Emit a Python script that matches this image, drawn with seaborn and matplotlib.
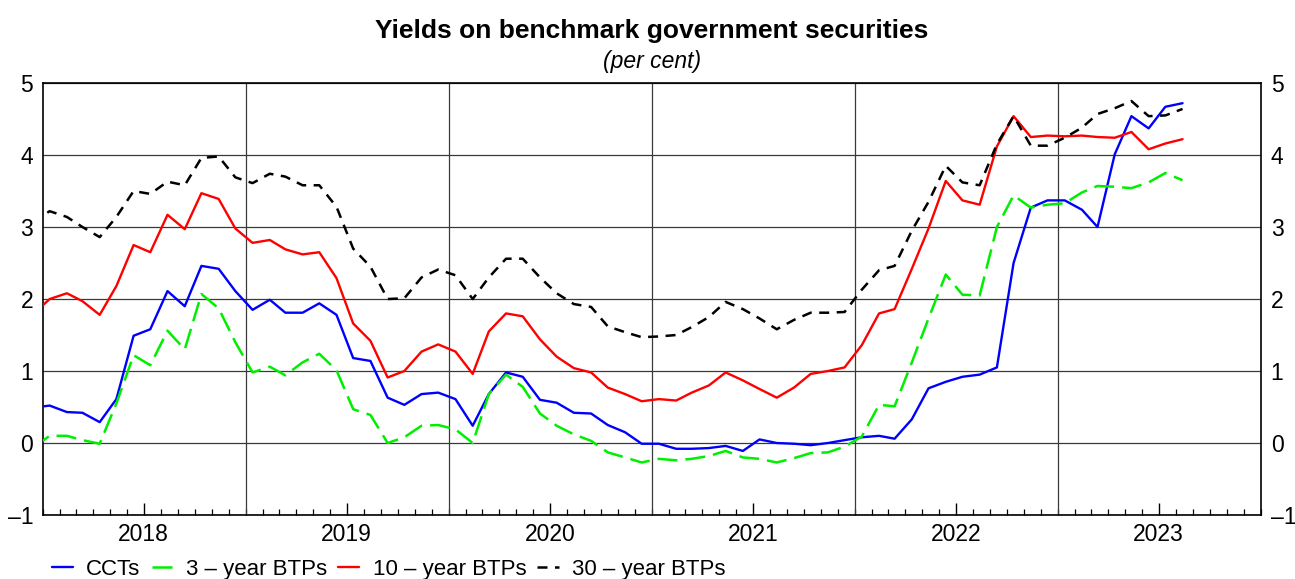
import numpy as np
import pandas as pd
import matplotlib
matplotlib.use("Agg")
import matplotlib.pyplot as plt
import matplotlib.dates as mdates
from matplotlib.lines import Line2D
from matplotlib.ticker import FuncFormatter
import seaborn as sns

# monthly observations, Dec 2017 - Aug 2023 (Dec 2017 only feeds the left edge)
months = pd.date_range("2017-12-01", "2023-08-01", freq="MS") + pd.Timedelta(days=12)

cct = [0.49,
       0.52, 0.43, 0.42, 0.29, 0.61, 1.49, 1.58, 2.11, 1.90, 2.46, 2.42, 2.11,
       1.85, 1.99, 1.81, 1.81, 1.94, 1.78, 1.18, 1.14, 0.63, 0.53, 0.68, 0.70,
       0.61, 0.24, 0.68, 0.98, 0.92, 0.60, 0.56, 0.42, 0.41, 0.25, 0.15, -0.01,
       -0.01, -0.08, -0.08, -0.07, -0.04, -0.11, 0.05, 0.00, -0.01, -0.03, 0.00, 0.04,
       0.08, 0.10, 0.06, 0.33, 0.76, 0.85, 0.92, 0.95, 1.05, 2.50, 3.27, 3.37,
       3.37, 3.24, 3.00, 4.01, 4.54, 4.37, 4.67, 4.72]

btp3 = [-0.07,
        0.10, 0.10, 0.04, -0.01, 0.55, 1.22, 1.08, 1.56, 1.30, 2.07, 1.87, 1.40,
        0.98, 1.06, 0.94, 1.12, 1.24, 1.01, 0.47, 0.39, 0.00, 0.08, 0.24, 0.25,
        0.19, 0.00, 0.68, 0.95, 0.78, 0.41, 0.24, 0.12, 0.03, -0.13, -0.20, -0.27,
        -0.22, -0.24, -0.22, -0.18, -0.11, -0.20, -0.22, -0.27, -0.21, -0.14, -0.13, -0.05,
        0.09, 0.53, 0.51, 1.12, 1.73, 2.34, 2.06, 2.05, 3.00, 3.44, 3.27, 3.31,
        3.33, 3.48, 3.57, 3.56, 3.54, 3.62, 3.75, 3.65]

btp10 = [1.78,
         2.00, 2.08, 1.97, 1.78, 2.18, 2.75, 2.65, 3.17, 2.97, 3.47, 3.39, 2.98,
         2.78, 2.82, 2.69, 2.62, 2.65, 2.29, 1.66, 1.42, 0.91, 1.00, 1.27, 1.37,
         1.27, 0.96, 1.55, 1.80, 1.76, 1.44, 1.20, 1.04, 0.98, 0.77, 0.68, 0.58,
         0.61, 0.59, 0.70, 0.80, 0.98, 0.87, 0.75, 0.63, 0.77, 0.96, 1.00, 1.05,
         1.36, 1.80, 1.86, 2.42, 2.98, 3.64, 3.37, 3.31, 4.12, 4.54, 4.25, 4.27,
         4.26, 4.27, 4.25, 4.24, 4.32, 4.08, 4.16, 4.22]

btp30 = [3.07,
         3.22, 3.14, 3.00, 2.86, 3.14, 3.50, 3.46, 3.63, 3.58, 3.96, 3.98, 3.69,
         3.61, 3.74, 3.70, 3.58, 3.58, 3.28, 2.70, 2.45, 2.00, 2.01, 2.30, 2.41,
         2.33, 2.00, 2.30, 2.56, 2.56, 2.30, 2.08, 1.93, 1.89, 1.62, 1.54, 1.47,
         1.48, 1.50, 1.61, 1.75, 1.96, 1.86, 1.73, 1.58, 1.71, 1.81, 1.81, 1.82,
         2.13, 2.40, 2.46, 2.95, 3.35, 3.85, 3.62, 3.58, 4.15, 4.54, 4.13, 4.13,
         4.24, 4.38, 4.57, 4.65, 4.75, 4.54, 4.55, 4.64]

names = ["CCTs", "3 \u2013 year BTPs", "10 \u2013 year BTPs", "30 \u2013 year BTPs"]
colors = {names[0]: "#0000ff", names[1]: "#00ee00", names[2]: "#ff0000", names[3]: "#000000"}
dashes = {names[0]: "", names[1]: (8, 3.2), names[2]: "", names[3]: (4, 3)}
widths = {names[0]: 1.7, names[1]: 1.8, names[2]: 1.7, names[3]: 1.8}

df = pd.DataFrame({
    "date": np.tile(months, 4),
    "value": cct + btp3 + btp10 + btp30,
    "series": np.repeat(names, len(months)),
})

sns.set_theme(style="white")
plt.rcParams["font.family"] = ["Liberation Sans", "DejaVu Sans"]
for key in ["text.color", "axes.labelcolor", "xtick.color", "ytick.color"]:
    plt.rcParams[key] = "black"

fig, ax = plt.subplots(figsize=(12.95, 5.79), dpi=100)
fig.subplots_adjust(left=0.0332, right=0.9737, top=0.8566, bottom=0.1105)

# grid first so the lines sit above it
ax.set_ylim(-1, 5)
ax.set_yticks(range(-1, 6))
ax.yaxis.set_major_formatter(FuncFormatter(lambda v, p: f"{v:.0f}".replace("-", "\u2013")))
ax.grid(axis="y", color="#3a3a3a", linewidth=0.9)
for yr in range(2019, 2024):
    ax.axvline(pd.Timestamp(f"{yr}-01-01"), color="#3a3a3a", linewidth=0.9, zorder=1)

for name in names:
    sub = df[df["series"] == name]
    sns.lineplot(data=sub, x="date", y="value", color=colors[name],
                 linewidth=widths[name], ax=ax, legend=False, zorder=3)
    line = ax.get_lines()[-1]
    if dashes[name]:
        line.set_dashes(dashes[name])

ax.set_xlim(pd.Timestamp("2018-01-01"), pd.Timestamp("2024-01-01"))
ax.xaxis.set_major_locator(mdates.MonthLocator(bymonth=7))
ax.xaxis.set_major_formatter(mdates.DateFormatter("%Y"))
ax.xaxis.set_minor_locator(mdates.MonthLocator())
ax.tick_params(axis="x", which="major", direction="in", length=9, width=1,
               labelsize=16.5, pad=6, bottom=True)
ax.tick_params(axis="x", which="minor", direction="in", length=4.5, width=0.9,
               bottom=True)
ax.tick_params(axis="y", length=0, labelsize=16.5, pad=7,
               labelleft=True, labelright=True)
ax.set_xlabel("")
ax.set_ylabel("")

for spine in ax.spines.values():
    spine.set_visible(True)
    spine.set_color("black")
    spine.set_linewidth(1.2)

xc = (0.0332 + 0.9737) / 2
fig.text(xc, 0.946, "Yields on benchmark government securities",
         ha="center", va="center", fontsize=19, fontweight="bold")
fig.text(xc, 0.894, "(per cent)", ha="center", va="center",
         fontsize=16.5, style="italic")

handles = [Line2D([0], [0], color=colors[n], linewidth=widths[n]) for n in names]
for h, n in zip(handles, names):
    if dashes[n]:
        h.set_dashes(dashes[n])
fig.legend(handles, names, loc="center left", bbox_to_anchor=(0.04, 0.017),
           ncol=4, frameon=False, fontsize=16, handlelength=0.95,
           handletextpad=0.6, columnspacing=0.5, borderaxespad=0, borderpad=0)

fig.savefig("out.png", dpi=100)
